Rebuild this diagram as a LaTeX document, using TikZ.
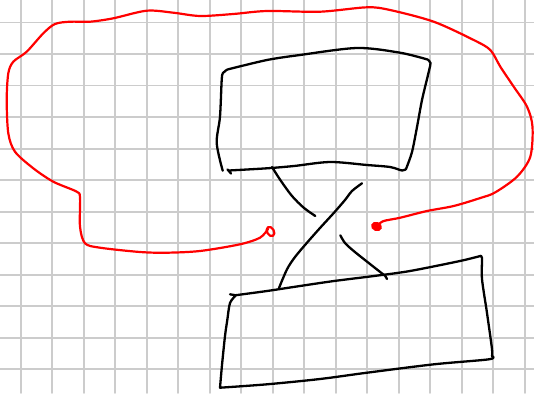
\documentclass[tikz,border=0pt]{standalone}
\usetikzlibrary{calc}
\definecolor{gridgray}{HTML}{CCCCCC}
\definecolor{penred}{HTML}{FF0000}

\begin{document}
\begin{tikzpicture}[x=1pt, y=-1pt, line cap=round, line join=round,
  gridline/.style={gridgray, line width=1.6pt},
  ink/.style={black, line width=2.3pt},
  redink/.style={penred, line width=2.2pt}]

% Paper with grid
\fill[white] (0,0) rectangle (534,393);
\useasboundingbox (0,0) rectangle (534,393);
\foreach \k in {0,...,16}
  \draw[gridline] ({20.7+31.5*\k},0) -- ({20.7+31.5*\k},393);
\foreach \k in {0,...,11}
  \draw[gridline] (0,{22.7+31.5*\k}) -- (534,{22.7+31.5*\k});

% Upper box
\draw[ink] plot[smooth] coordinates {(222.7,170.7) (216.7,143) (220,116.7) (221.7,80) (223,73) (227.5,69.5)}
  -- plot[smooth] coordinates {(227.5,69.5) (267,60) (300,55) (357,48) (400,52.7) (427.5,59.5)}
  -- plot[smooth] coordinates {(427.5,59.5) (430.5,63) (428.7,72) (422,100) (417,127) (412,152) (406,169)}
  -- plot[smooth] coordinates {(406,169) (402,170.5) (390,167) (367,165) (330,162) (294,166) (267,168.3) (229,170.5)};
\draw[ink] (227.5,169.5) -- (231,173.5);

% Lower box
\draw[ink] (230,294.3) -- (236,295.3)
  plot[smooth] coordinates {(236,295.3) (230,303) (227.3,320) (225,336) (222,365) (220,387.7)}
  -- plot[smooth] coordinates {(220,387.7) (267,384.3) (320,379) (367,372.7) (434,364.3) (489,359.3) (492,356)}
  -- plot[smooth] coordinates {(492,356) (492,349) (487,313) (482,279) (482,258) (480.3,256)}
  -- plot[smooth] coordinates {(480.3,256) (460,261) (410,271) (374,276) (334,281) (300,286) (267,291) (235,295.3)};

% Crossing between the boxes
\coordinate (upL) at (272,167);
\coordinate (upR) at (362,183.3);
\coordinate (lowL) at (279,288);
\coordinate (lowR) at (385.3,276);
\draw[ink] plot[smooth] coordinates {(upL) (280.3,180) (292,196) (303.7,207.7) (315.3,216)};
\draw[ink] plot[smooth] coordinates {(340.3,235.3) (345,243) (353.7,251) (370,264) (lowR)} -- (387,279);
\draw[ink] plot[smooth] coordinates {(upR) (352,191) (345,200) (334,212.7) (320,228) (307,242.7) (295,257) (287,269.3) (lowL)};

% Red loop
\coordinate (endA) at (270.5,231.5);
\coordinate (endB) at (376.5,226.5);
\draw[redink] plot[smooth] coordinates {(268,229) (260,237.7) (240,244.3) (200,251) (166.7,252.7)
  (140,252) (100,247.7) (85,243.3) (80,226.7) (80,198) (76.7,191.7) (53.3,181.7) (33.3,168.3)
  (15,151.7) (8.3,133.3) (6.7,100) (8.3,73.3) (13.3,61.7) (26.7,51.7) (43.3,33.3) (55,24) (70,21.7)
  (90,21.7) (113.3,18.3) (146.7,10.7) (173.3,12.7) (200,16) (233.3,14) (267,11) (320,11.7)
  (367,7.3) (390,10) (433.7,21.7) (473.7,40) (490.3,50) (500.3,66.7) (513.7,86.7) (527,106.7)
  (532.5,126.7) (530.3,156.7) (517,176.7) (495,192.5) (480.3,198) (453.7,206) (427,211)
  (400.3,217.7) (383.7,221) (378,225)};
\draw[redink] (endA) ellipse[x radius=3.4pt, y radius=5pt, rotate=30];
\fill[penred, rotate around={-20:(endB)}] (endB) ellipse[x radius=5.6pt, y radius=4.6pt];

\end{tikzpicture}
\end{document}
